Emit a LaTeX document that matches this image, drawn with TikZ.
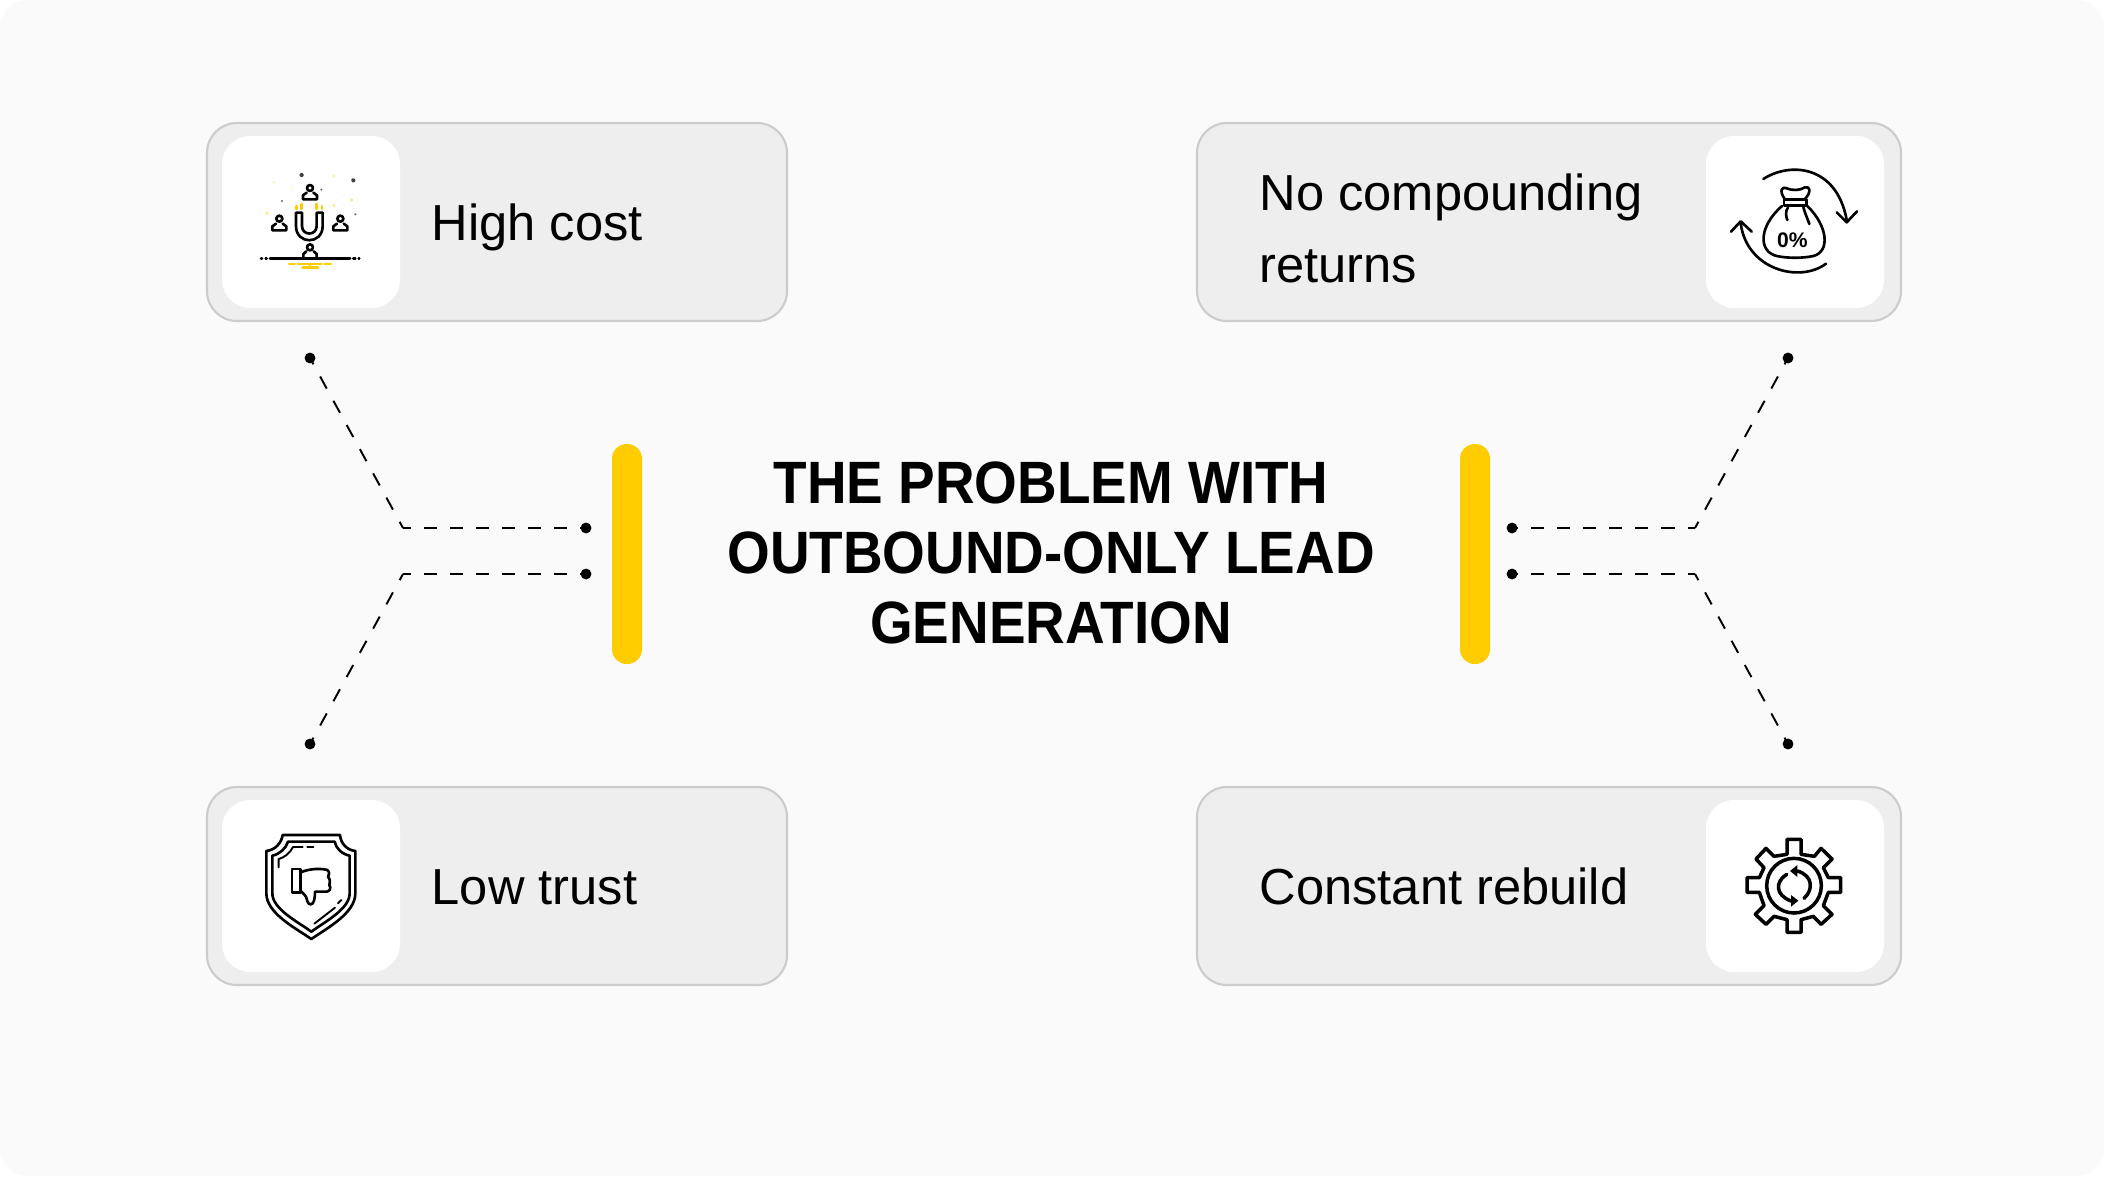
\documentclass[tikz,border=0pt]{standalone}
\usepackage{fontspec}
\usepackage{tikz}
\usepackage{xcolor}
\usetikzlibrary{positioning,arrows.meta,calc}
\setmainfont{Liberation Sans}
\newfontfamily\titlefont[FakeStretch=0.918]{Liberation Sans Bold}
\definecolor{pagebg}{RGB}{250,250,250}
\definecolor{boxbg}{RGB}{238,238,238}
\definecolor{boxline}{RGB}{204,204,204}
\definecolor{accent}{RGB}{255,204,0}
\tikzset{
  card/.style={draw=boxline,fill=boxbg,line width=0.6pt,rounded corners=8.5pt},
  iconcard/.style={fill=white,rounded corners=8pt},
  bar/.style={fill=accent,rounded corners=4.2pt},
  label/.style={font=\fontsize{14.4}{20.5}\selectfont,anchor=base west,align=left,inner sep=0pt},
  endpoint/.style={circle,fill=black,inner sep=0pt,minimum size=3.1pt},
  link/.style={line width=0.55pt,dash pattern=on 3.7pt off 3.7pt,dash phase=1.9pt},
  slantlink/.style={line width=0.55pt,dash pattern=on 3.9pt off 3.95pt,dash phase=1.9pt},
  ink/.style={line width=0.75pt,line cap=round,line join=round},
  thin ink/.style={line width=0.55pt,line cap=round,line join=round},
}
\begin{document}
\begin{tikzpicture}[x=0.01cm,y=-0.01cm]
  \useasboundingbox (0,0) rectangle (2104,1176);
  \fill[pagebg,rounded corners=8pt] (0,0) rectangle (2104,1176);
  % cards
  \draw[card] (207,123) rectangle (787,321);
  \draw[card] (1197,123) rectangle (1901,321);
  \draw[card] (207,787) rectangle (787,985);
  \draw[card] (1197,787) rectangle (1901,985);
  \fill[iconcard] (222,136) rectangle (400,308);
  \fill[iconcard] (1706,136) rectangle (1884,308);
  \fill[iconcard] (222,800) rectangle (400,972);
  \fill[iconcard] (1706,800) rectangle (1884,972);
  % labels
  \node[label] (highcost) at (431,240) {High cost};
  \node[label] (nocomp) at (1259,210) {No compounding};
  \node[label] (nocompb) at (1259,282) {returns};
  \node[label] (lowtrust) at (431,904) {Low trust};
  \node[label] (rebuild) at (1259,904) {Constant rebuild};
  % title
  \node[font=\titlefont\fontsize{17}{19.85}\selectfont,align=center,inner sep=0pt] (title) at (1051,553)
       {THE PROBLEM WITH\\OUTBOUND-ONLY LEAD\\GENERATION};
  % bars
  \fill[bar] (612,444) rectangle (642,664);
  \fill[bar] (1460,444) rectangle (1490,664);
  % end points
  \node[endpoint] (ltop) at (310,358) {};
  \node[endpoint] (lup) at (586,528) {};
  \node[endpoint] (ldown) at (586,574) {};
  \node[endpoint] (lbot) at (310,744) {};
  \node[endpoint] (rtop) at (1788,358) {};
  \node[endpoint] (rup) at (1512,528) {};
  \node[endpoint] (rdown) at (1512,574) {};
  \node[endpoint] (rbot) at (1788,744) {};
  \coordinate (ljup) at (403,528);
  \coordinate (ljdown) at (403,574);
  \coordinate (rjup) at (1695,528);
  \coordinate (rjdown) at (1695,574);
  % dashed links
  \draw[link] (lup.center) -- (ljup);
  \draw[slantlink] (ljup) -- (ltop.center);
  \draw[link] (ldown.center) -- (ljdown);
  \draw[slantlink] (ljdown) -- (lbot.center);
  \draw[link] (rup.center) -- (rjup);
  \draw[slantlink] (rjup) -- (rtop.center);
  \draw[link] (rdown.center) -- (rjdown);
  \draw[slantlink] (rjdown) -- (rbot.center);
  % magnet icon
  \begin{scope}[shift={(200,120)},scale=1/3]
    \draw[ink] (288,278) -- (288,318) .. controls (288,375) and (368,375) .. (368,318) -- (368,278) -- (350,278)
       -- (350,318) .. controls (350,348) and (306,348) .. (306,318) -- (306,278) -- cycle;
    \foreach \px/\py in {330/204,238/296,421/296,330/382} {
      \draw[ink] (\px,\py) circle (9);
    }
    \foreach \px/\py in {330/238,238/331,421/331} {
      \draw[ink] (\px-10,\py-20) -- (\px-21,\py-12) -- (\px-21,\py) -- (\px+21,\py) -- (\px+21,\py-12) -- (\px+10,\py-20);
    }
    \draw[ink] (310,414) -- (310,402) -- (319,394) (341,394) -- (350,402) -- (350,414);
    \draw[ink,line width=0.85pt] (210,416) -- (450,416);
    \draw[ink] (183,416) -- (186,416) (197,416) -- (200,416) (460,416) -- (466,416) (476,416) -- (478,416);
    \draw[ink,accent] (268,432) -- (284,432) (294,432) -- (366,432) (375,432) -- (392,432) (308,442) -- (354,442) (330,432) -- (330,442);
    \draw[ink,accent] (290,258) -- (290,267) (305,252) -- (305,267) (350,252) -- (350,267) (366,258) -- (366,267);
    \foreach \px/\py in {305/165,460/181} { \draw[thin ink,black!75] (\px,\py) circle (4); }
    \foreach \px/\py in {364/209,246/243,466/283} { \fill[black!60] (\px,\py) circle (3.5); }
    \foreach \px/\py/\pr in {401/168/3.5,222/188/2.5,276/205/2,455/240/4,401/257/3.5,201/280/4} { \fill[accent!70] (\px,\py) circle (\pr); }
  \end{scope}
  % money bag icon
  \begin{scope}[shift={(1690,120)},scale=1/3]
    \draw[ink] (220,177) .. controls (300,125) and (440,135) .. (470,300);
    \draw[ink] (440,277) -- (470,307) -- (501,274);
    \draw[ink] (408,431) .. controls (330,490) and (170,450) .. (152,310);
    \draw[ink] (123,335) -- (152,304) -- (185,335);
    \draw[ink] (284,237) .. controls (265,210) and (278,198) .. (290,205) .. controls (305,212) and (330,212) .. (345,202) .. controls (360,198) and (365,215) .. (345,237);
    \draw[ink] (282,238) -- (350,238) -- (350,256) -- (282,256) -- cycle;
    \draw[ink] (276,258) .. controls (205,320) and (205,395) .. (260,408) .. controls (290,415) and (340,415) .. (370,408) .. controls (420,395) and (415,320) .. (352,258);
    \draw[ink] (294,262) .. controls (285,275) and (288,290) .. (292,300);
    \draw[ink] (340,262) .. controls (345,280) and (352,295) .. (358,312);
    \node[font=\bfseries\fontsize{6}{8}\selectfont,inner sep=0pt] (zero) at (307,361) {0\%};
  \end{scope}
  % shield icon
  \begin{scope}[shift={(200,785)},scale=1/3]
    \draw[ink] (248,150) -- (420,150) .. controls (422,175) and (440,195) .. (466,198) -- (466,325) .. controls (466,385) and (380,430) .. (334,462)
      .. controls (288,430) and (199,385) .. (199,325) -- (199,198) .. controls (225,195) and (244,175) .. (248,150) -- cycle;
    \draw[ink] (264,170) -- (404,170) .. controls (408,190) and (425,207) .. (449,212) -- (449,325) .. controls (449,372) and (375,410) .. (334,440)
      .. controls (293,410) and (217,372) .. (217,325) -- (217,212) .. controls (240,207) and (258,190) .. (264,170) -- cycle;
    \draw[thin ink] (236,247) -- (236,222) .. controls (252,218) and (270,205) .. (279,186) -- (308,186) (322,186) -- (340,186);
    \draw[thin ink] (343,416) -- (405,368) (414,355) -- (424,345);
    \draw[ink] (276,252) -- (302,252) -- (302,322) -- (276,322) -- cycle;
    \draw[ink] (302,262) .. controls (330,250) and (365,250) .. (382,255) .. controls (392,262) and (385,272) .. (384,275)
      .. controls (392,285) and (390,295) .. (388,300) .. controls (394,310) and (390,318) .. (380,320) -- (345,320)
      .. controls (345,340) and (342,358) .. (332,358) .. controls (322,358) and (322,345) .. (318,335) .. controls (312,328) and (308,322) .. (302,318);
  \end{scope}
  % gear icon
  \begin{scope}[shift={(1690,785)},scale=1/3]
    \draw[ink,line width=1pt] (291,208) -- (291,163) -- (333,163) -- (333,208)
      -- (373,214) -- (393,190) -- (426,222) -- (400,248)
      -- (415,278) -- (452,278) -- (452,322) -- (415,322)
      -- (400,362) -- (426,388) -- (393,418) -- (370,394)
      -- (333,404) -- (333,442) -- (291,442) -- (291,404)
      -- (252,394) -- (228,418) -- (196,388) -- (222,362)
      -- (208,322) -- (171,322) -- (171,278) -- (208,278)
      -- (222,248) -- (198,222) -- (228,190) -- (252,214) -- cycle;
    \draw[ink,line width=1pt] (312,302) circle (82);
    \draw[ink,line width=1pt] (290,268) .. controls (255,290) and (255,330) .. (303,348);
    \draw[ink,line width=1pt] (322,258) .. controls (370,272) and (370,315) .. (342,340);
    \fill (300,258) -- (322,240) -- (322,276) -- cycle;
    \fill (325,347) -- (303,330) -- (303,365) -- cycle;
  \end{scope}
\end{tikzpicture}
\end{document}
